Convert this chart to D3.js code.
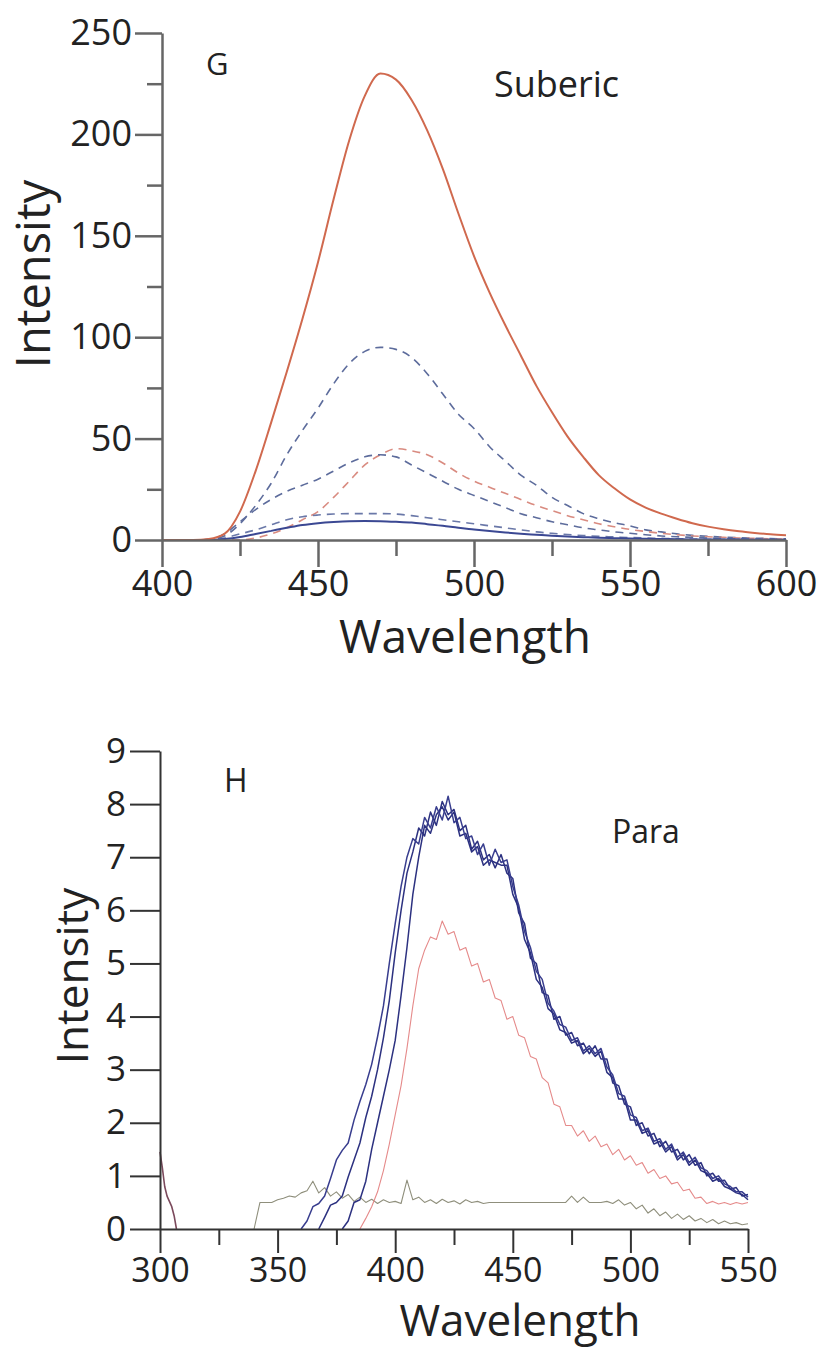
<!DOCTYPE html>
<html>
<head>
<meta charset="utf-8">
<script src="https://cdn.jsdelivr.net/npm/d3@7"></script>
<style>
  body { margin: 0; background: #fff; }
  svg { display: block; }
  text { font-family: "Open Sans", "Noto Sans", sans-serif; fill: #222; }
</style>
</head>
<body>
<div id="chart"></div>
<script>
// ---- panel G (Suberic): wavelength grid 400..600 step 5
const wlG = d3.range(400, 601, 5);
const gOrange = [0,0,0,0.5,3,14,34,58,83,109,137,168,197,219,230,227,217,202,183,161,140,122,106,91,76,63,51,41,32,25.5,20,16,13,10.5,8.3,6.6,5.3,4.3,3.5,2.8,2.3];
const gBlueHigh = [0,0,0,0.3,2,8,17,28,42,54,65,77,87,93,95,94,90,82,72,62,55,46,39,32,27,21,17,13,10.5,8.5,7,5,4,3,2.3,1.8,1.4,1.1,0.9,0.7,0.6];
const gBlueMid = [0,0,0,0.3,3,9,15,20,24,27,30,34,38,41,42,41,37,33,29,25,22,19,16,13,11,9,7.5,6,5,4,3.3,2.6,2,1.6,1.3,1,0.8,0.6,0.5,0.4,0.3];
const gRedDash = [0,0,0,0,0,0,1,3,6,10,14,21,29,37,42,45,44,42,38,33,29,26,23,20,17,14.5,12,10,8,6.5,5.2,4.2,3.3,2.6,2,1.6,1.3,1,0.8,0.6,0.5];
const gBlueLow = [0,0,0,0,1,3,5,7.5,10,11.5,12.3,12.8,13,13,13,12.8,12,11,10,9,8,7,6,5,4,3.3,2.7,2.2,1.8,1.5,1.2,1,0.8,0.6,0.5,0.4,0.3,0.3,0.2,0.2,0.2];
const gBlueSolid = [0,0,0,0,0.5,1.5,3,4.5,6,7.4,8.3,8.9,9.3,9.4,9.3,9,8.6,7.8,7,6,5.2,4.4,3.7,3.1,2.6,2.1,1.7,1.4,1.1,0.9,0.7,0.6,0.5,0.4,0.3,0.25,0.2,0.2,0.15,0.1,0.1];
const gYTicks = [0,50,100,150,200,250];
const gYMinor = [25,75,125,175,225];
const gXTicks = [400,450,500,550,600];
const gXMinor = [425,475,525,575];

// ---- panel H (Para): each trace sampled every 2.5 nm from its start
const hStep = 2.5;
const hBlue1Start = 360;
const hBlue1 = [0,0.15,0.42,0.48,0.62,0.95,1.3,1.48,1.62,2.05,2.4,2.72,3.1,3.62,4.2,5.0,5.75,6.45,7.0,7.35,7.25,7.75,7.55,7.95,7.7,8.15,7.65,7.75,7.35,7.4,7.05,7.25,6.85,7.15,6.9,6.95,6.45,6.1,5.6,5.3,4.85,4.7,4.25,4.1,3.85,3.8,3.55,3.6,3.35,3.45,3.3,3.4,3.05,2.9,2.55,2.5,2.15,2.1,1.85,1.9,1.65,1.7,1.5,1.6,1.35,1.45,1.25,1.35,1.15,1.1,0.95,1.0,0.85,0.8,0.7,0.7,0.6];
const hBlue2Start = 367.5;
const hBlue2 = [0,0.22,0.45,0.5,0.62,0.98,1.3,1.62,2.1,2.5,3.0,3.6,4.3,5.2,6.0,6.7,7.1,7.55,7.4,7.85,7.6,8.05,7.8,7.9,7.5,7.6,7.15,7.3,6.95,7.05,6.8,7.05,6.7,6.6,5.95,5.75,5.1,5.0,4.45,4.4,3.95,4.0,3.65,3.7,3.45,3.5,3.3,3.45,3.2,3.2,2.75,2.7,2.35,2.3,1.95,2.0,1.75,1.8,1.55,1.65,1.45,1.5,1.3,1.4,1.2,1.25,1.0,1.05,0.9,0.92,0.75,0.78,0.62,0.65];
const hBlue3Start = 377.5;
const hBlue3 = [0,0.15,0.5,0.55,0.9,1.5,2.0,2.5,3.0,3.55,4.4,5.3,6.3,7.0,7.6,7.45,7.8,7.95,7.7,7.85,7.4,7.45,7.1,7.2,6.85,6.95,6.9,6.85,6.85,6.3,6.05,5.45,5.2,4.7,4.55,4.15,4.05,3.75,3.7,3.5,3.55,3.3,3.4,3.25,3.35,2.95,2.85,2.45,2.45,2.05,2.05,1.8,1.85,1.6,1.65,1.45,1.55,1.3,1.4,1.2,1.3,1.1,1.05,0.9,0.95,0.8,0.75,0.68,0.65,0.55];
const hRedStart = 385;
const hRed = [0,0.2,0.42,0.7,1.1,1.6,2.15,2.7,3.4,4.2,4.9,5.25,5.5,5.45,5.8,5.55,5.6,5.25,5.3,4.95,5.0,4.65,4.7,4.35,4.3,3.95,4.0,3.65,3.6,3.25,3.2,2.85,2.75,2.35,2.3,1.95,1.95,1.75,1.85,1.65,1.75,1.55,1.6,1.4,1.5,1.3,1.38,1.2,1.25,1.05,1.12,0.95,1.0,0.85,0.88,0.72,0.75,0.58,0.6,0.48,0.52,0.47,0.5,0.46,0.5,0.47,0.5];
const hGrayStart = 340;
const hGray = [0,0.5,0.5,0.5,0.55,0.58,0.62,0.6,0.68,0.72,0.9,0.68,0.78,0.62,0.7,0.58,0.65,0.52,0.6,0.5,0.56,0.48,0.55,0.5,0.52,0.48,0.92,0.55,0.6,0.5,0.55,0.48,0.56,0.5,0.53,0.47,0.55,0.5,0.52,0.48,0.5,0.5,0.5,0.5,0.5,0.5,0.5,0.5,0.5,0.5,0.5,0.5,0.5,0.5,0.62,0.5,0.6,0.5,0.5,0.5,0.52,0.48,0.55,0.45,0.5,0.38,0.45,0.3,0.38,0.25,0.32,0.2,0.28,0.18,0.25,0.15,0.2,0.12,0.18,0.1,0.15,0.1,0.12,0.08,0.1];
const hMaroonStart = 300;
const hMaroonStep = 1;
const hMaroon = [1.45,1.15,0.8,0.62,0.52,0.42,0.25,0];
const hYTicks = [0,1,2,3,4,5,6,7,8,9];
const hXTicks = [300,350,400,450,500,550];
const hXMinor = [325,375,425,475,525];

const W = 822, H = 1348;
const svg = d3.select("#chart").append("svg")
    .attr("width", W)
    .attr("height", H);

function trace(start, step, vals) {
    return vals.map((v, i) => [start + i * step, v]);
}

// ================= panel G =================
const xG = d3.scaleLinear().domain([400, 600]).range([162, 786]);
const yG = d3.scaleLinear().domain([0, 250]).range([540, 33]);
const axisColG = "#666";

const gPanel = svg.append("g");

function styleAxis(sel, col, w, fs) {
    sel.selectAll("path, line").attr("stroke", col).attr("stroke-width", w);
    sel.selectAll("text").style("font-size", fs + "px").attr("fill", "#222");
}

const lineG = d3.line()
    .x(d => xG(d[0]))
    .y(d => yG(d[1]))
    .curve(d3.curveMonotoneX);

const gSeries = [
    {vals: gBlueHigh, col: "#5d6c9c", w: 1.6, dash: "8,6"},
    {vals: gRedDash, col: "#d98b80", w: 1.6, dash: "8,6"},
    {vals: gBlueMid, col: "#5d6c9c", w: 1.6, dash: "8,6"},
    {vals: gBlueLow, col: "#6a78a8", w: 1.6, dash: "8,6"},
    {vals: gBlueSolid, col: "#3b4893", w: 2, dash: null},
    {vals: gOrange, col: "#d0694e", w: 2, dash: null}
];

gPanel.selectAll("path.gline")
    .data(gSeries)
    .enter().append("path")
    .attr("class", "gline")
    .attr("d", d => lineG(wlG.map((w, i) => [w, d.vals[i]])))
    .attr("fill", "none")
    .attr("stroke", d => d.col)
    .attr("stroke-width", d => d.w)
    .attr("stroke-dasharray", d => d.dash);

// minor ticks first
gPanel.append("g")
    .attr("transform", "translate(162,0)")
    .call(d3.axisLeft(yG).tickValues(gYMinor).tickSize(15).tickFormat(""))
    .call(g => g.select(".domain").remove())
    .call(g => styleAxis(g, axisColG, 2.5, 36));
gPanel.append("g")
    .attr("transform", "translate(0,540)")
    .call(d3.axisBottom(xG).tickValues(gXMinor).tickSize(16).tickFormat(""))
    .call(g => g.select(".domain").remove())
    .call(g => styleAxis(g, axisColG, 2.5, 36));

gPanel.append("g")
    .attr("transform", "translate(162,0)")
    .call(d3.axisLeft(yG).tickValues(gYTicks).tickSize(27).tickSizeOuter(0).tickPadding(3))
    .call(g => styleAxis(g, axisColG, 2.5, 36));
gPanel.append("g")
    .attr("transform", "translate(0,540)")
    .call(d3.axisBottom(xG).tickValues(gXTicks).tickSize(27).tickSizeOuter(0).tickPadding(3))
    .call(g => styleAxis(g, axisColG, 2.5, 36));

gPanel.append("text")
    .attr("transform", "translate(50,274) rotate(-90)")
    .attr("text-anchor", "middle")
    .style("font-size", "47px")
    .text("Intensity");
gPanel.append("text")
    .attr("x", 465).attr("y", 653)
    .attr("text-anchor", "middle")
    .style("font-size", "46px")
    .text("Wavelength");
gPanel.append("text")
    .attr("x", 206).attr("y", 75)
    .style("font-size", "31px")
    .text("G");
gPanel.append("text")
    .attr("x", 494).attr("y", 97)
    .style("font-size", "36px")
    .text("Suberic");

// ================= panel H =================
const xH = d3.scaleLinear().domain([300, 550]).range([160, 748]);
const yH = d3.scaleLinear().domain([0, 9]).range([1229, 751]);
const axisColH = "#333";

const hPanel = svg.append("g");

const lineH = d3.line()
    .x(d => xH(d[0]))
    .y(d => yH(d[1]));

const hSeries = [
    {pts: trace(hGrayStart, hStep, hGray), col: "#8f8f7c", w: 1.1},
    {pts: trace(hMaroonStart, hMaroonStep, hMaroon), col: "#7b4a5c", w: 1.6},
    {pts: trace(hRedStart, hStep, hRed), col: "#e58a8a", w: 1.1},
    {pts: trace(hBlue3Start, hStep, hBlue3), col: "#2c3180", w: 1.5},
    {pts: trace(hBlue2Start, hStep, hBlue2), col: "#2c3180", w: 1.5},
    {pts: trace(hBlue1Start, hStep, hBlue1), col: "#383d8e", w: 1.5}
];

hPanel.selectAll("path.hline")
    .data(hSeries)
    .enter().append("path")
    .attr("class", "hline")
    .attr("d", d => lineH(d.pts))
    .attr("fill", "none")
    .attr("stroke", d => d.col)
    .attr("stroke-width", d => d.w)
    .attr("stroke-linejoin", "round");

hPanel.append("g")
    .attr("transform", "translate(0,1229)")
    .call(d3.axisBottom(xH).tickValues(hXMinor).tickSize(16).tickFormat(""))
    .call(g => g.select(".domain").remove())
    .call(g => styleAxis(g, axisColH, 2, 34));

hPanel.append("g")
    .attr("transform", "translate(160,0)")
    .call(d3.axisLeft(yH).tickValues(hYTicks).tickSize(30).tickSizeOuter(0).tickPadding(4))
    .call(g => styleAxis(g, axisColH, 2, 35));
hPanel.append("g")
    .attr("transform", "translate(0,1229)")
    .call(d3.axisBottom(xH).tickValues(hXTicks).tickSize(24).tickSizeOuter(0).tickPadding(5))
    .call(g => styleAxis(g, axisColH, 2, 34));

hPanel.append("text")
    .attr("transform", "translate(88,976) rotate(-90)")
    .attr("text-anchor", "middle")
    .style("font-size", "44px")
    .text("Intensity");
hPanel.append("text")
    .attr("x", 520).attr("y", 1336)
    .attr("text-anchor", "middle")
    .style("font-size", "44px")
    .text("Wavelength");
hPanel.append("text")
    .attr("x", 224).attr("y", 792)
    .style("font-size", "32px")
    .text("H");
hPanel.append("text")
    .attr("x", 612).attr("y", 843)
    .style("font-size", "32px")
    .text("Para");
</script>
</body>
</html>
